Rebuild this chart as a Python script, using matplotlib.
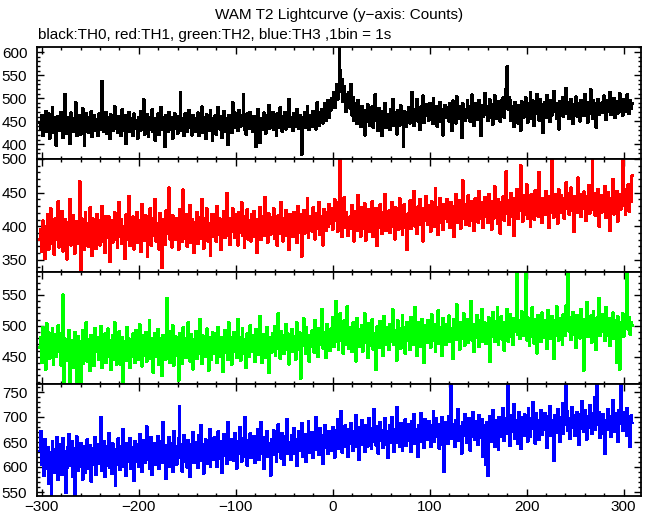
import numpy as np
import matplotlib
matplotlib.use('Agg')
import matplotlib.pyplot as plt
from matplotlib.ticker import MultipleLocator

# 1. Counts per 1 s bin (first bin at t = -302 s)
t_start = -302

th0 = [
    448, 431, 462, 419, 455, 440, 472, 428, 437, 466, 412, 451, 444, 480, 425, 458, 433, 397, 446, 461,
    429, 452, 470, 438, 415, 447, 509, 423, 441, 459, 434, 402, 468, 445, 427, 456, 438, 490, 418, 449,
    463, 436, 421, 454, 477, 442, 398, 431, 466, 447, 425, 458, 439, 471, 416, 444, 462, 430, 453, 437,
    418, 466, 448, 432, 536, 451, 427, 445, 470, 423, 459, 438, 412, 464, 443, 429, 456, 481, 434, 447,
    425, 461, 439, 452, 418, 475, 446, 430, 463, 401, 449, 437, 470, 428, 455, 442, 419, 466, 434, 451,
    440, 413, 458, 429, 472, 445, 431, 497, 422, 450, 439, 465, 417, 446, 458, 433, 476, 427, 444, 408,
    456, 437, 466, 421, 449, 480, 432, 458, 444, 395, 462, 438, 427, 470, 446, 431, 459, 413, 448, 467,
    435, 452, 424, 461, 445, 512, 430, 456, 439, 418, 466, 442, 427, 455, 474, 436, 449, 420, 462, 440,
    428, 457, 443, 468, 419, 451, 437, 481, 426, 459, 445, 412, 465, 436, 452, 429, 473, 444, 408, 456,
    438, 463, 421, 450, 480, 442, 433, 460, 415, 447, 471, 428, 456, 441, 400, 462, 435, 452, 425, 490,
    447, 468, 436, 455, 429, 474, 451, 438, 462, 444, 507, 432, 458, 421, 466, 449, 435, 470, 443, 456,
    427, 461, 440, 395, 452, 476, 438, 403, 457, 445, 431, 468, 450, 424, 463, 441, 485, 434, 455, 446,
    470, 432, 458, 444, 419, 466, 451, 437, 479, 443, 428, 461, 448, 470, 433, 456, 442, 497, 438, 459,
    445, 430, 467, 452, 439, 476, 448, 434, 463, 449, 378, 458, 442, 470, 436, 455, 481, 446, 431, 462,
    451, 438, 472, 445, 460, 433, 490, 453, 441, 469, 457, 475, 446, 462, 488, 452, 470, 495, 458, 480,
    474, 500, 486, 512, 479, 505, 530, 498, 520, 610, 560, 515, 540, 492, 525, 508, 470, 496, 485, 512,
    478, 530, 463, 501, 452, 488, 470, 445, 496, 460, 475, 438, 482, 455, 467, 420, 473, 449, 486, 458,
    440, 470, 456, 482, 437, 462, 508, 451, 466, 429, 478, 445, 460, 418, 472, 453, 488, 436, 465, 448,
    463, 431, 476, 450, 497, 441, 468, 455, 422, 473, 458, 440, 484, 449, 466, 395, 471, 452, 438, 469,
    455, 480, 446, 470, 512, 458, 441, 476, 463, 497, 450, 468, 432, 481, 459, 505, 447, 474, 462, 486,
    470, 452, 489, 461, 477, 444, 500, 466, 455, 483, 438, 472, 460, 491, 449, 476, 420, 468, 485, 457,
    479, 463, 450, 488, 472, 430, 494, 461, 477, 446, 503, 468, 455, 482, 470, 414, 489, 460, 476, 452,
    471, 495, 458, 481, 449, 466, 507, 475, 440, 488, 462, 478, 453, 496, 469, 418, 484, 460, 477, 510,
    465, 482, 451, 473, 497, 459, 486, 443, 470, 505, 478, 455, 492, 466, 481, 449, 494, 472, 501, 458,
    487, 520, 568, 476, 501, 495, 452, 483, 470, 438, 491, 463, 478, 446, 485, 467, 430, 492, 474, 459,
    481, 502, 465, 447, 488, 471, 512, 456, 479, 494, 440, 483, 466, 509, 475, 452, 497, 469, 486, 425,
    478, 491, 458, 506, 472, 485, 449, 496, 463, 480, 515, 470, 489, 455, 477, 433, 492, 468, 484, 501,
    460, 487, 473, 522, 466, 490, 455, 481, 498, 469, 444, 486, 475, 503, 461, 488, 472, 450, 495, 478,
    485, 462, 508, 474, 491, 447, 483, 467, 519, 476, 455, 494, 471, 488, 436, 480, 498, 464, 487, 473,
    490, 468, 505, 477, 453, 496, 482, 470, 512, 465, 488, 474, 499, 458, 481, 493, 467, 486, 510, 472,
    484, 463, 497, 478, 491, 470, 508, 482, 466, 495, 477, 489,
]

th1 = [
    380, 395, 362, 408, 371, 352, 399, 384, 417, 366, 392, 427, 375, 403, 388, 358, 412, 380, 396, 437,
    369, 401, 385, 422, 363, 394, 410, 378, 351, 405, 389, 440, 372, 398, 416, 383, 360, 407, 390, 374,
    402, 466, 335, 412, 381, 397, 365, 421, 388, 404, 370, 393, 428, 379, 356, 411, 386, 399, 367, 418,
    384, 408, 372, 395, 430, 377, 402, 361, 415, 390, 383, 414, 347, 398, 409, 376, 393, 421, 381, 404,
    368, 397, 436, 385, 410, 374, 399, 388, 352, 417, 392, 380, 445, 371, 403, 389, 414, 366, 400, 383,
    421, 376, 397, 409, 362, 433, 388, 401, 379, 416, 391, 355, 406, 383, 427, 372, 398, 412, 386, 440,
    378, 404, 391, 366, 419, 385, 338, 410, 396, 373, 423, 389, 402, 457, 381, 407, 369, 416, 393, 380,
    412, 386, 399, 365, 425, 392, 408, 377, 454, 395, 382, 418, 370, 403, 389, 431, 376, 410, 397, 361,
    405, 388, 421, 374, 399, 413, 382, 440, 396, 367, 411, 390, 426, 378, 404, 393, 357, 417, 400, 385,
    418, 394, 377, 430, 402, 388, 411, 365, 407, 395, 422, 383, 398, 449, 386, 412, 373, 405, 392, 426,
    401, 383, 417, 396, 372, 421, 390, 408, 435, 386, 403, 368, 414, 398, 425, 381, 409, 394, 378, 418,
    397, 422, 385, 410, 361, 404, 393, 428, 380, 415, 399, 386, 443, 392, 407, 376, 419, 402, 388, 413,
    395, 427, 382, 409, 398, 371, 416, 403, 389, 436, 401, 378, 412, 394, 424, 386, 405, 365, 418, 399,
    408, 385, 421, 397, 413, 376, 430, 402, 391, 417, 355, 406, 424, 389, 411, 398, 442, 383, 407, 395,
    415, 392, 428, 403, 381, 419, 397, 410, 436, 388, 414, 401, 372, 425, 406, 393, 420, 399, 433, 411,
    404, 427, 395, 418, 440, 409, 423, 392, 436, 412, 500, 429, 384, 417, 443, 398, 420, 407, 386, 401,
    414, 396, 431, 405, 378, 422, 409, 393, 446, 401, 417, 385, 428, 410, 397, 434, 379, 412, 403, 425,
    392, 418, 406, 437, 384, 415, 400, 427, 371, 411, 398, 432, 405, 389, 421, 409, 448, 394, 416, 402,
    423, 390, 412, 436, 399, 418, 381, 428, 407, 414, 395, 441, 403, 425, 388, 417, 432, 398, 410, 365,
    419, 405, 438, 396, 424, 411, 452, 400, 417, 389, 429, 413, 440, 402, 420, 378, 426, 408, 445, 415,
    403, 431, 418, 392, 437, 410, 425, 399, 456, 414, 428, 387, 421, 442, 406, 419, 395, 433, 411, 426,
    440, 407, 423, 398, 435, 416, 429, 384, 418, 447, 405, 424, 413, 438, 397, 427, 468, 412, 421, 403,
    432, 415, 446, 401, 424, 437, 409, 428, 393, 441, 417, 433, 406, 452, 420, 411, 436, 398, 425, 443,
    414, 430, 405, 448, 421, 437, 395, 426, 412, 459, 418, 432, 404, 440, 423, 389, 435, 416, 444, 409,
    427, 481, 419, 438, 402, 433, 449, 415, 429, 386, 442, 420, 455, 411, 436, 424, 490, 430, 407, 446,
    418, 434, 462, 412, 439, 425, 400, 447, 421, 436, 410, 453, 428, 443, 415, 480, 426, 438, 405, 441,
    430, 417, 452, 425, 444, 398, 436, 421, 500, 432, 413, 448, 427, 439, 404, 455, 433, 420, 446, 428,
    442, 411, 437, 465, 426, 449, 418, 434, 457, 423, 440, 392, 445, 431, 420, 472, 435, 447, 414, 438,
    427, 451, 436, 408, 444, 430, 461, 419, 438, 425, 500, 433, 449, 416, 441, 428, 455, 400, 437, 446,
    421, 443, 432, 459, 413, 438, 450, 426, 394, 441, 433, 470, 418, 445, 429, 452, 407, 436, 448, 425,
    440, 500, 431, 455, 417, 446, 434, 462, 422, 443, 437, 475,
]

th2 = [
    465, 482, 441, 497, 458, 473, 430, 504, 462, 489, 447, 478, 455, 495, 438, 470, 486, 451, 466, 500,
    459, 472, 436, 488, 550, 401, 479, 452, 467, 444, 493, 405, 461, 477, 432, 456, 490, 468, 398, 483,
    447, 474, 403, 464, 492, 439, 471, 455, 506, 443, 478, 461, 427, 485, 450, 469, 436, 496, 458, 473,
    481, 445, 467, 499, 432, 474, 458, 487, 440, 463, 495, 451, 476, 429, 468, 484, 446, 505, 460, 437,
    470, 453, 491, 438, 466, 482, 402, 457, 475, 444, 498, 461, 479, 433, 468, 450, 487, 472, 441, 493,
    458, 477, 446, 502, 463, 435, 484, 469, 452, 490, 443, 473, 461, 508, 447, 480, 456, 425, 471, 488,
    450, 466, 494, 437, 479, 462, 420, 484, 455, 473, 446, 545, 468, 491, 441, 476, 459, 500, 436, 470,
    483, 452, 467, 412, 488, 461, 475, 439, 497, 466, 480, 448, 471, 505, 457, 443, 486, 469, 430, 478,
    464, 491, 447, 473, 456, 510, 468, 439, 484, 459, 476, 450, 495, 463, 428, 481, 470, 445, 489, 472,
    455, 487, 466, 440, 498, 474, 451, 482, 462, 426, 479, 493, 457, 471, 446, 505, 468, 481, 438, 475,
    490, 459, 477, 448, 511, 466, 482, 444, 470, 496, 455, 478, 462, 432, 487, 473, 450, 500, 467, 484,
    458, 479, 442, 494, 469, 481, 453, 515, 471, 440, 486, 463, 477, 449, 498, 465, 424, 482, 474, 457,
    488, 470, 499, 452, 476, 463, 520, 480, 447, 491, 468, 484, 455, 473, 502, 461, 487, 438, 479, 466,
    494, 458, 483, 471, 446, 505, 477, 462, 489, 415, 480, 468, 512, 474, 456, 497, 470, 485, 443, 478,
    466, 492, 481, 457, 509, 473, 487, 450, 496, 469, 482, 527, 464, 490, 476, 448, 503, 471, 486, 460,
    495, 479, 513, 466, 488, 540, 474, 499, 461, 484, 520, 477, 492, 455, 508, 470, 487, 531, 476, 463,
    497, 482, 458, 505, 471, 489, 443, 512, 479, 494, 466, 486, 501, 459, 481, 520, 473, 490, 448, 504,
    468, 496, 485, 511, 462, 488, 476, 429, 499, 481, 465, 507, 474, 490, 452, 515, 484, 470, 498, 479,
    461, 503, 487, 475, 526, 469, 492, 480, 444, 509, 477, 495, 463, 486, 517, 472, 498, 455, 489, 506,
    476, 493, 461, 514, 484, 499, 470, 530, 488, 452, 505, 481, 496, 467, 511, 479, 440, 500, 487, 473,
    509, 482, 497, 465, 518, 490, 476, 503, 459, 493, 485, 525, 471, 498, 487, 452, 512, 480, 495, 469,
    502, 488, 516, 474, 496, 483, 447, 510, 491, 478, 534, 486, 499, 462, 505, 493, 480, 520, 468, 497,
    485, 511, 473, 500, 489, 540, 477, 503, 458, 494, 481, 517, 498, 466, 508, 487, 526, 475, 492, 505,
    471, 499, 486, 513, 442, 496, 482, 522, 490, 474, 507, 493, 530, 469, 501, 485, 515, 478, 498, 460,
    506, 489, 527, 475, 500, 518, 483, 495, 470, 512, 491, 504, 587, 486, 509, 479, 497, 523, 484, 500,
    490, 587, 477, 514, 496, 468, 505, 482, 529, 491, 472, 510, 499, 456, 517, 486, 503, 474, 521, 494,
    481, 508, 497, 463, 525, 488, 502, 479, 515, 492, 447, 509, 485, 531, 498, 476, 512, 489, 504, 470,
    518, 496, 484, 533, 507, 587, 491, 513, 478, 500, 522, 486, 509, 465, 517, 494, 503, 480, 527, 498,
    485, 428, 511, 495, 538, 482, 506, 490, 516, 473, 499, 524, 487, 508, 461, 513, 496, 545, 484, 502,
    519, 491, 507, 476, 530, 498, 485, 512, 468, 504, 493, 521, 480, 509, 497, 440, 515, 488, 430, 506,
    492, 520, 483, 510, 499, 527, 587, 494, 513, 486, 505, 500,
]

th3 = [
    632, 671, 604, 648, 583, 655, 621, 597, 640, 566, 629, 612, 545, 651, 618, 589, 636, 602, 660, 574,
    627, 609, 645, 585, 657, 614, 631, 549, 598, 640, 666, 621, 603, 652, 580, 637, 545, 615, 661, 592,
    634, 601, 648, 619, 575, 642, 610, 588, 627, 655, 596, 620, 643, 571, 613, 638, 604, 660, 585, 624,
    646, 607, 632, 699, 593, 617, 651, 580, 629, 603, 641, 668, 598, 622, 586, 647, 612, 630, 563, 636,
    605, 657, 621, 594, 642, 616, 676, 600, 633, 582, 648, 611, 627, 658, 596, 621, 639, 573, 652, 610,
    628, 645, 601, 666, 618, 590, 635, 653, 608, 627, 681, 614, 642, 596, 631, 660, 584, 623, 647, 605,
    639, 617, 662, 596, 634, 651, 608, 690, 625, 644, 576, 636, 613, 659, 601, 628, 648, 590, 672, 620,
    642, 605, 633, 657, 722, 618, 646, 591, 627, 664, 611, 638, 599, 653, 624, 580, 645, 632, 670, 608,
    650, 621, 637, 598, 663, 629, 684, 612, 646, 587, 633, 655, 606, 641, 623, 676, 601, 648, 630, 615,
    659, 626, 643, 600, 671, 637, 617, 652, 589, 640, 665, 622, 648, 606, 690, 634, 615, 656, 628, 645,
    612, 668, 639, 597, 651, 626, 680, 633, 611, 658, 642, 620, 700, 637, 603, 654, 631, 667, 618, 645,
    629, 662, 608, 647, 636, 676, 614, 653, 690, 627, 641, 596, 659, 633, 672, 620, 648, 635, 583, 655,
    640, 673, 624, 658, 611, 646, 685, 630, 652, 617, 668, 638, 604, 661, 644, 695, 626, 650, 637, 615,
    663, 641, 678, 627, 655, 602, 648, 672, 633, 659, 688, 621, 646, 666, 610, 652, 639, 692, 628, 657,
    644, 670, 618, 661, 649, 700, 635, 656, 624, 677, 645, 663, 607, 651, 684, 638, 659, 627, 671, 646,
    665, 632, 680, 654, 619, 673, 648, 696, 637, 660, 643, 712, 629, 667, 651, 683, 640, 658, 620, 676,
    647, 688, 661, 633, 672, 655, 704, 640, 666, 614, 679, 652, 693, 645, 662, 630, 684, 657, 641, 698,
    659, 677, 636, 668, 650, 716, 662, 643, 681, 627, 665, 690, 653, 674, 639, 660, 697, 645, 671, 618,
    667, 684, 649, 700, 656, 631, 676, 662, 720, 648, 670, 641, 688, 659, 633, 679, 654, 695, 642, 668,
    685, 652, 673, 630, 691, 664, 705, 647, 676, 660, 621, 683, 669, 707, 651, 674, 639, 696, 662, 680,
    655, 692, 671, 640, 683, 666, 712, 650, 677, 698, 661, 685, 637, 673, 658, 700, 645, 590, 689, 667,
    680, 646, 702, 670, 766, 657, 686, 664, 640, 694, 675, 715, 653, 681, 668, 627, 690, 662, 706, 676,
    649, 687, 671, 698, 633, 679, 661, 710, 685, 655, 692, 668, 644, 703, 676, 658, 696, 621, 683, 670,
    604, 689, 583, 662, 701, 678, 650, 714, 687, 640, 693, 669, 681, 634, 700, 661, 690, 676, 718, 652,
    684, 697, 666, 766, 679, 642, 704, 688, 671, 725, 656, 693, 680, 646, 709, 674, 637, 699, 683, 662,
    705, 672, 690, 651, 718, 684, 661, 698, 676, 730, 689, 647, 707, 670, 693, 655, 682, 713, 664, 696,
    674, 708, 688, 639, 701, 680, 722, 662, 694, 677, 612, 703, 685, 668, 716, 691, 650, 699, 681, 728,
    667, 695, 684, 766, 711, 672, 698, 656, 689, 720, 679, 703, 662, 694, 710, 686, 645, 705, 677, 731,
    692, 670, 713, 688, 655, 701, 678, 724, 694, 666, 708, 687, 740, 675, 697, 766, 684, 710, 658, 699,
    681, 705, 667, 627, 693, 674, 716, 689, 702, 660, 698, 733, 683, 671, 708, 692, 650, 713, 686, 766,
    696, 672, 709, 684, 700, 662, 718, 690, 675, 640, 703, 688,
]

series = [th0, th1, th2, th3]
colors = ['black', '#ff0000', '#00ff00', '#0000ff']
ylims = [(368, 611), (332, 500), (406, 587), (542, 766)]
xlim = (-305, 318)

plt.rcParams['font.family'] = ['Liberation Sans', 'DejaVu Sans']
plt.rcParams['font.size'] = 11

# 2. Four stacked panels sharing the time axis, no gap between them
fig = plt.figure(figsize=(6.52, 5.15), dpi=100)
left, width = 37 / 652, 604 / 652
edges = [47, 159, 272, 384, 496]   # panel borders in pixels from the top

axes = []
for i, (vals, col, yl) in enumerate(zip(series, colors, ylims)):
    bottom = 1 - edges[i + 1] / 515
    height = (edges[i + 1] - edges[i]) / 515
    ax = fig.add_axes([left, bottom, width, height])
    t = t_start + np.arange(len(vals))
    ax.step(t, vals, where='mid', color=col, lw=1.4, antialiased=False)
    ax.set_xlim(*xlim)
    ax.set_ylim(*yl)
    ax.xaxis.set_major_locator(MultipleLocator(100))
    ax.xaxis.set_minor_locator(MultipleLocator(20))
    ax.yaxis.set_major_locator(MultipleLocator(50))
    ax.yaxis.set_minor_locator(MultipleLocator(10))
    ax.tick_params(which='both', direction='in', top=True, right=True, width=1)
    ax.tick_params(which='major', length=5, pad=7)
    ax.tick_params(which='minor', length=2.5)
    ax.tick_params(axis='x', which='major', pad=3)
    if i < 3:
        ax.tick_params(axis='x', labelbottom=False)
    for s in ax.spines.values():
        s.set_linewidth(1.3)
    axes.append(ax)

# 3. Titles
fig.text(339 / 652, 1 - 15 / 515, 'WAM T2 Lightcurve (y\u2212axis: Counts)',
         ha='center', va='center')
fig.text(38 / 652, 1 - 35 / 515, 'black:TH0, red:TH1, green:TH2, blue:TH3 ,1bin = 1s',
         ha='left', va='center')

fig.savefig('out.png', dpi=100)
